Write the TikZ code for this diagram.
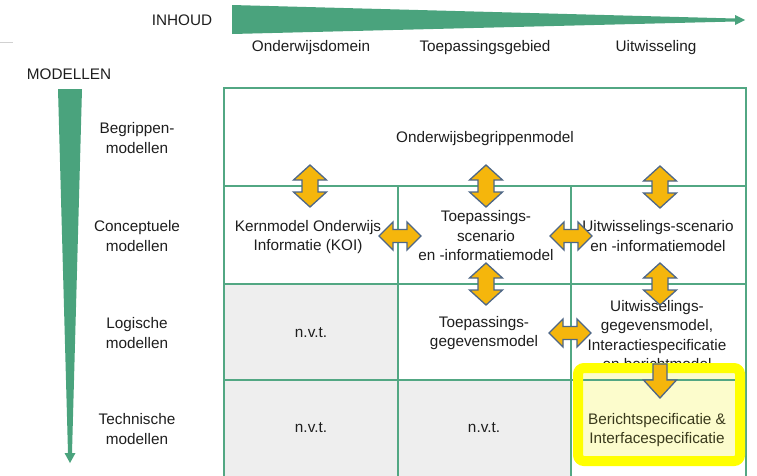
\documentclass[tikz,border=0pt]{standalone}
\usepackage{fontspec}
\setmainfont{Liberation Sans}
\definecolor{gridgreen}{HTML}{52A783}
\definecolor{wedgegreen}{HTML}{4AA37D}
\definecolor{cellgray}{HTML}{EEEEEE}
\definecolor{arrowfill}{HTML}{F5B60C}
\definecolor{arrowedge}{HTML}{4E6787}
\definecolor{hlyellow}{HTML}{FFFF00}
\definecolor{hlfill}{HTML}{FCFCCC}
\definecolor{hltext}{HTML}{3A3A1C}
\definecolor{txtcol}{HTML}{1E1E1E}
\begin{document}
\begin{tikzpicture}[x=1pt,y=-1pt,
  txt/.style={font=\fontsize{15.3}{19.5}\selectfont, text=txtcol, align=center, inner sep=0pt},
  gridline/.style={draw=gridgreen, line width=2pt},
  wedge/.style={fill=wedgegreen},
  dbl/.style={fill=arrowfill, draw=arrowedge, line width=1.3pt, line join=miter},
  vda/.pic={\path[dbl] (0,-21) -- (16.5,-6) -- (8,-6) -- (8,6) -- (16.5,6) -- (0,21) -- (-16.5,6) -- (-8,6) -- (-8,-6) -- (-16.5,-6) -- cycle;},
  hda/.pic={\path[dbl] (-21,0) -- (-7,-14) -- (-7,-6.5) -- (7,-6.5) -- (7,-14) -- (21,0) -- (7,14) -- (7,6.5) -- (-7,6.5) -- (-7,14) -- cycle;},
  sda/.pic={\path[dbl] (-7,-25) -- (7,-25) -- (7,-9) -- (16.5,-9) -- (0,9) -- (-16.5,-9) -- (-7,-9) -- cycle;}
]
\useasboundingbox[fill=white] (0,0) rectangle (757,475);

% faint remnant line
\draw[black!18, line width=1pt] (0,42) -- (13,42);

% wedges
\fill[wedge] (232,5) -- (735,18.5) -- (735,15) -- (745,20) -- (735,25) -- (735,21.5) -- (232,34) -- cycle;
\fill[wedge] (58,89) -- (82,89) -- (72,453) -- (75.5,453) -- (70,463) -- (64.5,453) -- (68,453) -- cycle;

% axis labels
\node[txt] (inhoud) at (182,20) {INHOUD};
\node[txt] (modellen) at (69,74) {MODELLEN};
\node[txt] (h1) at (311,48) {Onderwijsdomein};
\node[txt] (h2) at (485,48) {Toepassingsgebied};
\node[txt] (h3) at (656,48) {Uitwisseling};

\node[txt] (r1) at (137,138) {Begrippen-\\modellen};
\node[txt] (r2) at (137,236) {Conceptuele\\modellen};
\node[txt] (r3) at (137,333) {Logische\\modellen};
\node[txt] (r4) at (137,429) {Technische\\modellen};

% cell fills
\fill[cellgray] (224,284) rectangle (398,480);
\fill[cellgray] (398,380) rectangle (571,480);
\fill[hlfill, rounded corners=6pt] (578,368) rectangle (740,461);

% grid
\draw[gridline] (224,480) -- (224,88) -- (746,88) -- (746,480);
\draw[gridline] (224,186) -- (746,186);
\draw[gridline] (224,284) -- (746,284);
\draw[gridline] (224,380) -- (746,380);
\draw[gridline] (398,186) -- (398,480);
\draw[gridline] (571,186) -- (571,480);

% cell texts
\node[txt] (obm) at (485,139) {Onderwijsbegrippenmodel};
\node[txt] (koi) at (308,237) {Kernmodel Onderwijs\\Informatie (KOI)};
\node[txt] (tsi) at (486,236) {Toepassings-\\scenario\\en -informatiemodel};
\node[txt] (usi) at (658,236) {Uitwisselings-scenario\\en -informatiemodel};
\node[txt] (nvt1) at (311,333) {n.v.t.};
\node[txt] (tgm) at (484,333) {Toepassings-\\gegevensmodel};
\node[txt] (ugm) at (657,335) {Uitwisselings-\\gegevensmodel,\\Interactiespecificatie\\en berichtmodel};
\node[txt] (nvt2) at (311,428) {n.v.t.};
\node[txt] (nvt3) at (484,428) {n.v.t.};
\node[txt, text=hltext] (bis) at (657,430) {Berichtspecificatie \&\\Interfacespecificatie};

% highlight border
\draw[hlyellow, line width=10pt, rounded corners=6pt] (578,368) rectangle (740,461);

% arrows
\pic (a1) at (310,186) {vda};
\pic (a2) at (486,186) {vda};
\pic (a3) at (660,187) {vda};
\pic (a4) at (486,284) {vda};
\pic (a5) at (660,284) {vda};
\pic (a6) at (400,236) {hda};
\pic (a7) at (571,236) {hda};
\pic (a8) at (570,333) {hda};
\pic (a9) at (660,389) {sda};
\end{tikzpicture}
\end{document}
